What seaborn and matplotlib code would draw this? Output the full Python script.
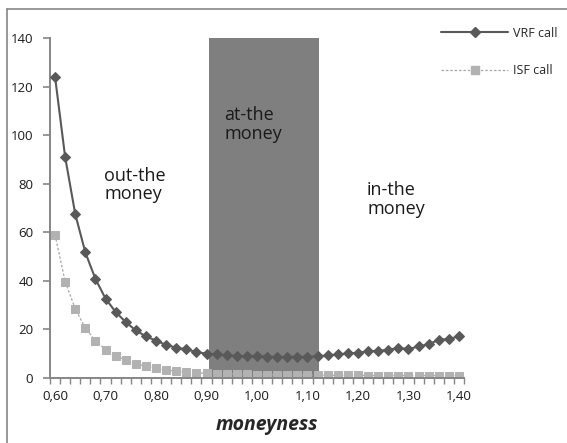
import numpy as np
import pandas as pd
import matplotlib
matplotlib.use("Agg")
import matplotlib.pyplot as plt
import seaborn as sns
from matplotlib.lines import Line2D
from matplotlib.ticker import FixedLocator, FuncFormatter

# ----------------------------
# DATA
# ----------------------------
moneyness = [0.60, 0.62, 0.64, 0.66, 0.68, 0.70, 0.72, 0.74, 0.76, 0.78,
             0.80, 0.82, 0.84, 0.86, 0.88, 0.90, 0.92, 0.94, 0.96, 0.98,
             1.00, 1.02, 1.04, 1.06, 1.08, 1.10, 1.12, 1.14, 1.16, 1.18,
             1.20, 1.22, 1.24, 1.26, 1.28, 1.30, 1.32, 1.34, 1.36, 1.38, 1.40]

vrf_call = [124.0, 91.0, 67.5, 51.7, 40.8, 32.7, 27.2, 23.0, 19.6, 17.1,
            15.4, 13.6, 12.5, 11.8, 10.7, 10.0, 9.7, 9.3, 9.1, 8.9,
            8.9, 8.8, 8.6, 8.7, 8.7, 8.7, 8.9, 9.3, 9.7, 10.1,
            10.4, 11.0, 11.2, 11.6, 12.4, 11.9, 13.0, 13.9, 15.7, 16.1, 17.1]

isf_call = [58.9, 39.7, 28.5, 20.5, 15.4, 11.7, 9.2, 7.3, 5.9, 4.8,
            4.0, 3.3, 2.8, 2.4, 2.1, 2.0, 1.8, 1.7, 1.6, 1.5,
            1.4, 1.4, 1.3, 1.3, 1.2, 1.2, 1.2, 1.1, 1.1, 1.1,
            1.1, 1.0, 1.0, 1.0, 1.0, 1.0, 1.0, 1.0, 1.0, 1.0, 1.0]

atm_band = (0.905, 1.122)
y_ticks = [0, 20, 40, 60, 80, 100, 120, 140]
x_ticks = [0.60, 0.70, 0.80, 0.90, 1.00, 1.10, 1.20, 1.30, 1.40]

df = pd.DataFrame({"moneyness": moneyness, "VRF call": vrf_call, "ISF call": isf_call})

# ----------------------------
# STYLE
# ----------------------------
sns.set_style("white")
plt.rcParams["font.family"] = ["Open Sans", "DejaVu Sans"]

W, H = 567, 443
fig = plt.figure(figsize=(W / 100, H / 100), dpi=100)
ax = fig.add_axes([50 / W, (H - 378) / H, (464 - 50) / W, (378 - 38) / H])

axis_grey = "#868686"
dark = "#595959"
light = "#b2b2b2"

# at-the-money band
ax.axvspan(*atm_band, color="#7f7f7f", lw=0, zorder=0)

sns.lineplot(data=df, x="moneyness", y="ISF call", ax=ax, color="#a6a6a6",
             lw=0.9, linestyle=(0, (2, 1.5)), marker="s", markersize=6.2,
             markerfacecolor=light, markeredgecolor=light, zorder=2)
sns.lineplot(data=df, x="moneyness", y="VRF call", ax=ax, color=dark,
             lw=1.5, marker="D", markersize=5.6, markerfacecolor=dark,
             markeredgecolor=dark, zorder=3)

ax.set_xlim(0.59, 1.41)
ax.set_ylim(0, 140)
ax.yaxis.set_major_locator(FixedLocator(y_ticks))
ax.xaxis.set_major_locator(FixedLocator(x_ticks))
ax.xaxis.set_minor_locator(FixedLocator(np.arange(0.59, 1.415, 0.02)))
ax.xaxis.set_major_formatter(FuncFormatter(lambda v, p: f"{v:.2f}".replace(".", ",")))

for s in ["top", "right"]:
    ax.spines[s].set_visible(False)
for s in ["left", "bottom"]:
    ax.spines[s].set_color(axis_grey)
    ax.spines[s].set_linewidth(1.4)

ax.tick_params(axis="y", which="major", length=5, width=1.2, color=axis_grey,
               labelsize=9.5, pad=7, left=True, labelcolor="#1a1a1a")
ax.tick_params(axis="x", which="major", length=0, labelsize=9.5, pad=9, bottom=True,
               labelcolor="#1a1a1a")
ax.tick_params(axis="x", which="minor", length=4, width=1.0, color=axis_grey,
               direction="out", bottom=True)
ax.set_ylabel("")
ax.set_xlabel("moneyness", fontsize=14, fontweight="bold", fontstyle="italic")
ax.xaxis.set_label_coords((267 - 50) / (464 - 50), -(425 - 378) / (378 - 38))
ax.xaxis.label.set_va("center")

# region labels
txt = dict(fontsize=13, color="#1a1a1a", ha="left", va="top", linespacing=1.05)
ax.text(0.697, 87, "out-the\nmoney", **txt)
ax.text(0.935, 112, "at-the\nmoney", **txt)
ax.text(1.218, 81, "in-the\nmoney", **txt)

# legend
handles = [
    Line2D([], [], color=dark, lw=1.5, marker="D", markersize=5.6,
           markerfacecolor=dark, markeredgecolor=dark),
    Line2D([], [], color="#a6a6a6", lw=0.9, linestyle=(0, (2, 1.5)), marker="s",
           markersize=6.2, markerfacecolor=light, markeredgecolor=light),
]
fig.legend(handles, ["VRF call", "ISF call"], loc="upper left",
           bbox_to_anchor=(432 / W, 1 - 18 / H), frameon=False, fontsize=9,
           handlelength=5.4, handletextpad=0.4, labelspacing=1.95,
           borderpad=0.2)

# outer chart frame (partially visible)
fig.add_artist(Line2D([7 / W, 7 / W], [0, 1 - 9 / H], transform=fig.transFigure,
                      color=axis_grey, lw=1.2))
fig.add_artist(Line2D([7 / W, 1], [1 - 9 / H, 1 - 9 / H], transform=fig.transFigure,
                      color=axis_grey, lw=1.2))

fig.savefig("out.png", dpi=100)
